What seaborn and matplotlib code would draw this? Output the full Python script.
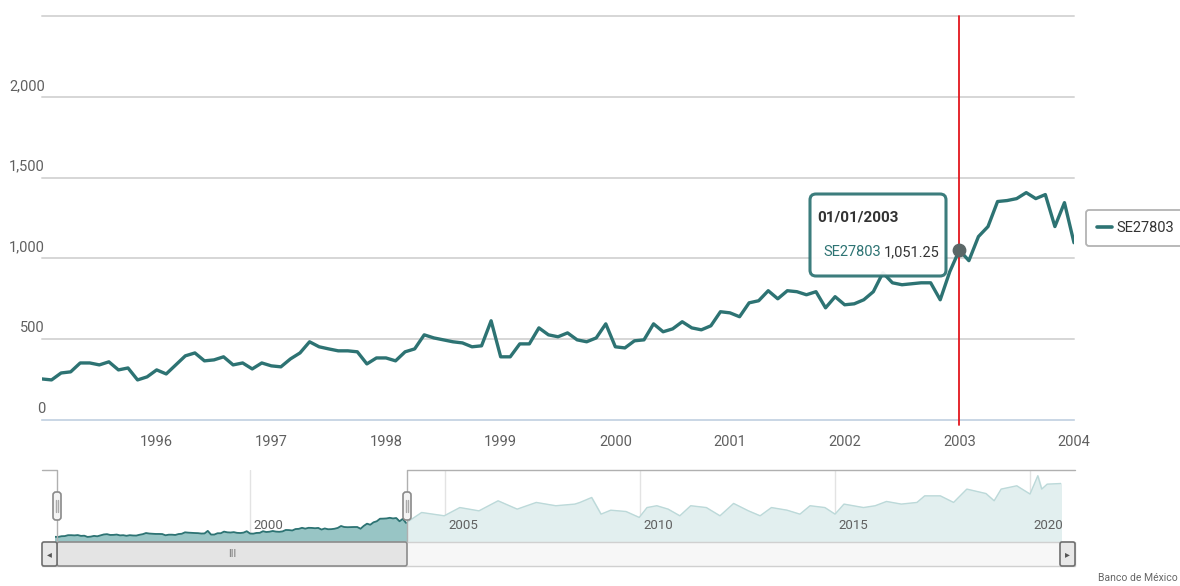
import numpy as np
import pandas as pd
import matplotlib
matplotlib.use("Agg")
import matplotlib.pyplot as plt
import matplotlib.transforms as mtransforms
from matplotlib import font_manager
from matplotlib.patches import FancyBboxPatch, Rectangle
from matplotlib.lines import Line2D
import seaborn as sns

# ---------------- data ----------------
series_name = "SE27803"
start_year = 1995
# monthly values Jan-1995 .. Jan-2004
values_1995 = [254, 248, 291, 298, 353, 353, 341, 360, 310, 322, 248, 267]
values_1996 = [310, 285, 341, 397, 415, 366, 372, 391, 341, 353, 316, 353]
values_1997 = [335, 329, 378, 415, 484, 453, 440, 428, 428, 422, 347, 384]
values_1998 = [384, 366, 422, 440, 527, 508, 496, 484, 477, 453, 459, 614]
values_1999 = [391, 391, 471, 471, 570, 527, 515, 539, 496, 484, 508, 595]
values_2000 = [453, 446, 490, 496, 595, 546, 564, 608, 570, 558, 583, 670]
values_2001 = [663, 639, 725, 738, 800, 750, 800, 794, 775, 794, 694, 763]
values_2002 = [713, 719, 744, 794, 911, 849, 837, 843, 849, 849, 744, 918]
values_2003 = [1051.25, 986, 1135, 1197, 1352, 1358, 1370, 1407, 1370, 1395, 1197, 1345]
values_2004 = [1097]

# navigator (rest of the history, read roughly off the small overview)
nav_years_ext = [2004.4, 2004.98, 2005.38, 2005.87, 2006.36, 2006.85, 2007.34, 2007.84,
                 2008.33, 2008.46, 2008.76, 2009.0, 2009.25, 2009.64, 2009.98, 2010.18,
                 2010.43, 2010.72, 2011.02, 2011.3, 2011.7, 2012.05, 2012.4, 2012.78,
                 2013.08, 2013.37, 2013.77, 2014.1, 2014.36, 2014.74, 2015.0, 2015.23,
                 2015.73, 2016.03, 2016.32, 2016.7, 2017.1, 2017.3, 2017.7, 2018.04,
                 2018.38, 2018.87, 2019.08, 2019.26, 2019.66, 2020.0, 2020.2, 2020.3,
                 2020.44, 2020.8]
nav_values_ext = [1730, 1530, 2030, 1830, 2440, 1935, 2340, 2140,
                  2240, 2340, 2640, 1630, 1870, 1790, 1430, 2030,
                  2140, 1935, 1530, 2140, 2030, 1530, 2280, 1830,
                  1530, 2030, 1870, 1630, 2140, 2030, 1630, 2240,
                  2030, 2140, 2400, 2240, 2340, 2740, 2740, 2340,
                  3150, 2880, 2440, 3150, 3350, 2850, 3960, 3150,
                  3450, 3490]

year_ticks = [1996, 1997, 1998, 1999, 2000, 2001, 2002, 2003, 2004]
y_ticks = [0, 500, 1000, 1500, 2000, 2500]
y_tick_labels = ["0", "500", "1,000", "1,500", "2,000", ""]
nav_ticks = [2000, 2005, 2010, 2015, 2020]
tooltip_date = "01/01/2003"
tooltip_x = 2003.0
tooltip_value = 1051.25
source_text = "Banco de México"

values = (values_1995 + values_1996 + values_1997 + values_1998 + values_1999 +
          values_2000 + values_2001 + values_2002 + values_2003 + values_2004)
df = pd.DataFrame({"year": start_year + np.arange(len(values)) / 12.0,
                   "value": values})
nav_df = pd.concat([df, pd.DataFrame({"year": nav_years_ext, "value": nav_values_ext})],
                   ignore_index=True)

# ---------------- style ----------------
sns.set_style("white")
available = {f.name for f in font_manager.fontManager.ttflist}
narrow = "Liberation Sans Narrow" if "Liberation Sans Narrow" in available else None
base_font = narrow if narrow else ("Roboto" if "Roboto" in available else "DejaVu Sans")
plt.rcParams["font.family"] = [base_font, "DejaVu Sans"]
FS = 12 if narrow else 10.5

TEAL = "#2d7373"
GRAY_TXT = "#606060"
W, H = 1180, 586
fig = plt.figure(figsize=(W / 100, H / 100), dpi=100)
ident = mtransforms.IdentityTransform()

# ---------------- main chart ----------------
ax = fig.add_axes([42 / W, (H - 420) / H, (1074 - 42) / W, (420 - 16) / H])
sns.lineplot(data=df, x="year", y="value", ax=ax, color=TEAL, lw=2.4,
             legend=False, zorder=3)
ax.set_xlim(df["year"].iloc[0], df["year"].iloc[-1])
ax.set_ylim(0, 2500)
ax.set_xlabel("")
ax.set_ylabel("")

for v in y_ticks[1:]:
    ax.axhline(v, color="#d6d6d6", lw=1.4, zorder=1, clip_on=False)
ax.set_yticks(y_ticks)
ax.set_yticklabels([])
ax.tick_params(axis="y", length=0)
ylab_tr = mtransforms.offset_copy(ax.get_yaxis_transform(), fig=fig, x=3, y=4, units="dots")
for v, lab in zip(y_ticks, y_tick_labels):
    ax.text(0, v, lab, transform=ylab_tr, ha="right", va="bottom",
            fontsize=FS, color=GRAY_TXT)

ax.set_xticks(year_ticks)
ax.set_xticklabels([str(y) for y in year_ticks], fontsize=FS, color=GRAY_TXT)
ax.tick_params(axis="x", length=6, width=1, color="#c0d0e0", pad=5, direction="out")
for s in ["top", "left", "right"]:
    ax.spines[s].set_visible(False)
ax.spines["bottom"].set_color("#c0d0e0")
ax.spines["bottom"].set_linewidth(1.2)

# crosshair, hover marker
ax.axvline(tooltip_x, color="#e3161e", lw=1.3, ymin=-0.012, ymax=1.0,
           clip_on=False, zorder=4)
ax.scatter([tooltip_x], [tooltip_value], s=80, color="#5b6767", zorder=6,
           edgecolor="#5b6767")

# tooltip
tx0, ty0, tw, th = 810, 194, 136, 82
box = FancyBboxPatch((tx0, H - ty0 - th), tw, th,
                     boxstyle="round,pad=0,rounding_size=6",
                     transform=ident, facecolor="white", edgecolor=TEAL,
                     lw=2.2, alpha=0.93, zorder=10)
fig.patches.append(box)
fig.text(817 / W, 1 - 218 / H, tooltip_date, fontsize=FS + 0.5, fontweight="bold",
         color="#333333", ha="left", va="center", zorder=11)
fig.text(823 / W, 1 - 252 / H, series_name, fontsize=FS, color=TEAL,
         ha="left", va="center", zorder=11)
fig.text(940 / W, 1 - 252 / H, f"{tooltip_value:,.2f}", fontsize=FS,
         color="#333333", ha="right", va="center", zorder=11)

# legend
handle = Line2D([0], [0], color=TEAL, lw=2.6)
leg = fig.legend([handle], [series_name], loc="center left",
                 bbox_to_anchor=(1086 / W, 1 - 228 / H), frameon=True,
                 fancybox=True, fontsize=FS, handlelength=1.0,
                 handletextpad=0.35, borderpad=0.75, borderaxespad=0,
                 labelcolor="#333333")
leg.get_frame().set_edgecolor("#a0a0a0")
leg.get_frame().set_linewidth(1.3)

# ---------------- navigator ----------------
nav_left, nav_right, nav_top, nav_bot = 55, 1061, 470, 541
nax = fig.add_axes([nav_left / W, (H - nav_bot) / H, (nav_right - nav_left) / W,
                    (nav_bot - nav_top) / H])
nax.set_xlim(1995.0, 1995.0 + (nav_right - nav_left) / 39.0)
nax.set_ylim(0, (nav_bot - nav_top) / 0.01648)
sel_end = df["year"].iloc[-1]
sel = nav_df[nav_df["year"] <= sel_end]
rest = nav_df[nav_df["year"] >= sel_end]
nax.fill_between(rest["year"], rest["value"], color="#e2efef", zorder=1)
sns.lineplot(data=rest, x="year", y="value", ax=nax, color="#bcd9d9", lw=1.0,
             legend=False, zorder=2)
nax.fill_between(sel["year"], sel["value"], color="#98c5c5", zorder=3)
sns.lineplot(data=sel, x="year", y="value", ax=nax, color=TEAL, lw=1.3,
             legend=False, zorder=4)
for t in nav_ticks:
    nax.axvline(t, color="#e3e3e3", lw=1, zorder=0.5)
lab_tr = mtransforms.offset_copy(nax.get_xaxis_transform(), fig=fig, x=3, y=0, units="dots")
for t in nav_ticks:
    nax.text(t, 0.22, str(t), transform=lab_tr, fontsize=FS - 1, color=GRAY_TXT,
             ha="left", va="center", zorder=5)
nax.set_xticks([])
nax.set_yticks([])
nax.set_xlabel("")
nax.set_ylabel("")
for s in nax.spines.values():
    s.set_visible(False)

sel_x0, sel_x1 = 57, 407
outline1 = Line2D([42, sel_x0, sel_x0], [H - nav_top, H - nav_top, H - nav_bot],
                  transform=ident, color="#b0b0b0", lw=1)
outline2 = Line2D([sel_x1, sel_x1, 1075], [H - nav_bot, H - nav_top, H - nav_top],
                  transform=ident, color="#b0b0b0", lw=1)
fig.lines.extend([outline1, outline2])

for hx in (sel_x0, sel_x1):
    hb = FancyBboxPatch((hx - 4, H - 520), 8, 28,
                        boxstyle="round,pad=0,rounding_size=3", transform=ident,
                        facecolor="#f4f4f4", edgecolor="#8a8a8a", lw=1.2, zorder=20)
    fig.patches.append(hb)
    fig.lines.append(Line2D([hx - 1, hx - 1], [H - 512, H - 500], transform=ident,
                            color="#aaaaaa", lw=1, zorder=21))
    fig.lines.append(Line2D([hx + 1, hx + 1], [H - 512, H - 500], transform=ident,
                            color="#aaaaaa", lw=1, zorder=21))

# scrollbar
sb_top, sb_bot = 542, 566
track = Rectangle((42, H - sb_bot), 1075 - 42, sb_bot - sb_top, transform=ident,
                  facecolor="#f7f7f7", edgecolor="#d0d0d0", lw=1)
fig.patches.append(track)
thumb = FancyBboxPatch((sel_x0, H - sb_bot), sel_x1 - sel_x0, sb_bot - sb_top,
                       boxstyle="round,pad=0,rounding_size=2", transform=ident,
                       facecolor="#e4e4e4", edgecolor="#8c8c8c", lw=1.2)
fig.patches.append(thumb)
for bx in (42, 1060):
    btn = FancyBboxPatch((bx, H - sb_bot), 15, sb_bot - sb_top,
                         boxstyle="round,pad=0,rounding_size=2", transform=ident,
                         facecolor="#e8e8e8", edgecolor="#707070", lw=1.2)
    fig.patches.append(btn)
fig.text(49.5 / W, 1 - 554 / H, "◂", fontsize=7, color="#555555",
         ha="center", va="center", family="DejaVu Sans")
fig.text(1067.5 / W, 1 - 554 / H, "▸", fontsize=7, color="#555555",
         ha="center", va="center", family="DejaVu Sans")
fig.text((sel_x0 + sel_x1) / 2 / W, 1 - 554 / H, "III", fontsize=7.5,
         color="#777777", ha="center", va="center")

fig.text(1178 / W, 1 - 578 / H, source_text, fontsize=7.5, color="#666666",
         ha="right", va="center")

fig.savefig("out.png", dpi=100)
